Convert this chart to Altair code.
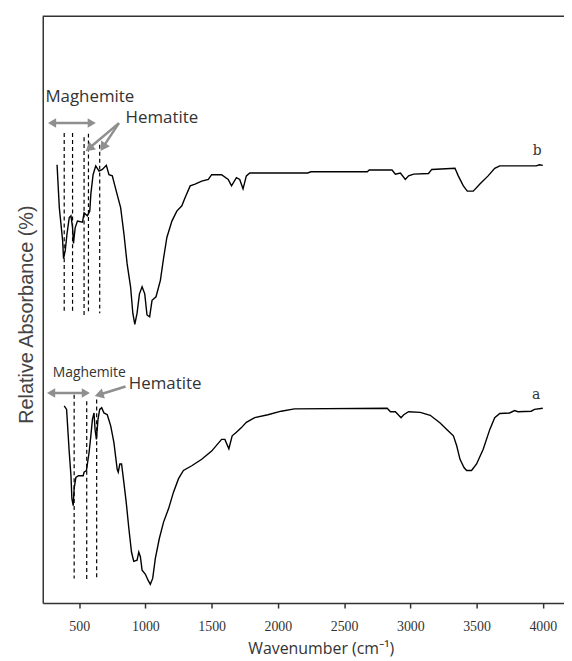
import altair as alt
import pandas as pd

# ---- spectrum b (upper curve) ----
b_wn = [333, 350, 375, 382, 395, 408, 425, 438, 450, 457,
        470, 487, 525, 537, 562, 580, 588, 605, 625, 650,
        675, 705, 725, 750, 780, 813, 838, 862, 888, 905,
        920, 937, 955, 975, 995, 1012, 1032, 1050, 1080, 1113,
        1138, 1162, 1200, 1237, 1275, 1300, 1338, 1375, 1425, 1475,
        1500, 1575, 1625, 1650, 1687, 1712, 1737, 1762, 1788, 2225,
        2250, 2675, 2690, 2862, 2887, 2925, 2962, 2987, 3025, 3137,
        3162, 3337, 3362, 3400, 3430, 3475, 3525, 3587, 3637, 3675,
        3950, 3975, 4000]
b_abs = [74.7, 67.4, 61.8, 58.7, 60.1, 62.9, 65.7, 66.0, 64.0, 61.3,
         64.0, 65.1, 64.9, 66.5, 66.0, 66.8, 69.7, 73.0, 74.5, 73.6,
         73.9, 74.6, 73.0, 72.8, 70.2, 67.4, 62.9, 57.8, 53.9, 49.4,
         47.5, 49.4, 52.7, 53.9, 52.7, 49.1, 48.8, 51.6, 52.2, 55.0,
         58.9, 62.3, 65.1, 66.8, 67.7, 69.1, 71.1, 71.4, 71.9, 72.2,
         73.0, 73.0, 72.2, 71.1, 72.5, 72.2, 70.6, 72.8, 73.3, 73.3,
         73.5, 73.5, 73.8, 73.8, 73.1, 73.3, 72.2, 72.8, 73.1, 73.2,
         73.9, 74.1, 72.8, 71.1, 70.2, 70.2, 71.4, 72.8, 74.1, 74.5,
         74.5, 74.7, 74.6]

# ---- spectrum a (lower curve) ----
a_wn = [387, 405, 425, 438, 445, 455, 462, 475, 495, 530,
        537, 555, 562, 575, 588, 600, 612, 620, 630, 642,
        655, 670, 687, 712, 738, 762, 787, 795, 807, 820,
        837, 855, 875, 895, 912, 937, 950, 962, 975, 1000,
        1020, 1037, 1055, 1075, 1105, 1137, 1175, 1212, 1250, 1287,
        1350, 1425, 1500, 1575, 1600, 1630, 1655, 1687, 1725, 1762,
        1825, 1925, 2025, 2125, 2825, 2850, 2887, 2930, 2950, 2987,
        3075, 3150, 3225, 3275, 3325, 3350, 3375, 3405, 3425, 3462,
        3500, 3550, 3600, 3637, 3675, 3750, 3787, 3812, 3912, 3937,
        4000]
a_abs = [33.6, 33.0, 25.7, 21.7, 17.8, 16.6, 19.5, 21.4, 21.7, 21.7,
         22.3, 22.6, 23.7, 25.7, 28.5, 31.3, 32.4, 29.6, 27.9, 31.3,
         33.0, 33.3, 32.4, 32.1, 30.2, 27.4, 22.8, 22.3, 23.7, 23.7,
         20.6, 17.2, 12.7, 8.7, 7.1, 7.3, 8.7, 7.9, 5.6, 4.9,
         3.9, 3.2, 4.2, 7.6, 11.0, 13.8, 16.1, 18.9, 21.2, 22.6,
         23.4, 24.5, 25.9, 27.9, 27.9, 26.3, 28.5, 29.1, 29.9, 30.8,
         31.6, 32.1, 32.7, 33.1, 33.2, 32.6, 32.6, 31.6, 32.1, 32.6,
         32.5, 32.0, 30.7, 29.6, 28.5, 26.8, 24.5, 23.1, 22.6, 22.6,
         23.7, 26.2, 29.6, 31.6, 32.3, 32.4, 32.8, 32.6, 32.7, 33.0,
         33.2]

# ---- dashed peak markers ----
b_dash_wn = [387, 450, 537, 570, 655]
b_dash_top = [80.1, 80.1, 79.4, 80.0, 78.1]
b_dash_bot = [49.6, 49.6, 49.1, 49.6, 49.4]
a_dash_wn = [462, 557, 632]
a_dash_top = [35.5, 34.4, 34.7]
a_dash_bot = [4.2, 3.9, 4.2]

# ---- annotation arrows ----
mag_arrow_x1 = [295, 288]
mag_arrow_x2 = [595, 550]
mag_arrow_y = [81.8, 35.8]
hem_tail_x = [800, 800, 850]
hem_tail_y = [81.8, 81.8, 36.9]
hem_head_x = [575, 680, 650]
hem_head_y = [77.5, 77.7, 35.5]
hem_head_angle = [230, 213, 253]

# ---- labels ----
lab_text = ["Maghemite", "Hematite", "Maghemite", "Hematite"]
lab_x = [245, 850, 300, 875]
lab_y = [85.4, 81.8, 38.5, 36.4]
lab_size = [17, 17, 14, 17]
curve_lab = ["b", "a"]
curve_lab_x = [3957, 3950]
curve_lab_y = [77.0, 35.5]

x_ticks = list(range(500, 4001, 250))

assert len(b_wn) == len(b_abs) and len(a_wn) == len(a_abs)

W, H = 525, 591
xs = alt.Scale(domain=[225, 4160], nice=False, zero=False)
ys = alt.Scale(domain=[0, 100], nice=False, zero=False)

spec = pd.concat([
    pd.DataFrame({"wn": b_wn, "abs": b_abs, "s": "b"}),
    pd.DataFrame({"wn": a_wn, "abs": a_abs, "s": "a"}),
])

x_axis = alt.Axis(
    values=x_ticks, format="d",
    labelExpr="datum.value % 500 === 0 ? datum.label : ''",
    tickSize={"condition": {"test": "datum.value % 500 !== 0", "value": 2}, "value": 5},
    grid=False, domainColor="#333", domainWidth=1.5, tickColor="#333", tickWidth=1.5,
    labelFont="Liberation Sans Narrow", labelFontSize=14, labelColor="#333", labelPadding=12,
    title="Wavenumber (cm⁻¹)", titleFont="Open Sans", titleFontSize=16, titleFontWeight="normal",
    titleColor="#333", titleX=280, titleY=51, titleBaseline="alphabetic", titleAlign="center",
)
y_axis = alt.Axis(
    labels=False, ticks=False, grid=False, domainColor="#333", domainWidth=1.5,
    title="Relative Absorbance (%)", titleFont="Liberation Sans", titleFontSize=20,
    titleFontWeight="normal", titleColor="#444", titleX=-10, titleY=300,
    titleBaseline="alphabetic", titleAngle=270, titleAlign="center",
)

lines = alt.Chart(spec).mark_line(color="black", strokeWidth=1.4, interpolate="linear").encode(
    x=alt.X("wn:Q", scale=xs, axis=x_axis),
    y=alt.Y("abs:Q", scale=ys, axis=y_axis),
    detail="s:N",
)

dash_df = pd.concat([
    pd.DataFrame({"wn": b_dash_wn, "top": b_dash_top, "bot": b_dash_bot}),
    pd.DataFrame({"wn": a_dash_wn, "top": a_dash_top, "bot": a_dash_bot}),
])
dashes = alt.Chart(dash_df).mark_rule(color="black", strokeWidth=1.2, strokeDash=[4, 3]).encode(
    x=alt.X("wn:Q", scale=xs), y=alt.Y("top:Q", scale=ys), y2="bot:Q"
)

mag_df = pd.DataFrame({"x1": mag_arrow_x1, "x2": mag_arrow_x2, "y": mag_arrow_y})
arrow_col = "#8f8f8f"
mag_shaft = alt.Chart(mag_df).mark_rule(color=arrow_col, strokeWidth=2.5).encode(
    x=alt.X("x1:Q", scale=xs), x2="x2:Q", y=alt.Y("y:Q", scale=ys)
)
mag_left = alt.Chart(mag_df).mark_point(shape="triangle-left", filled=True, color=arrow_col,
                                        opacity=1, size=90).encode(
    x=alt.X("x1:Q", scale=xs), y=alt.Y("y:Q", scale=ys)
)
mag_right = alt.Chart(mag_df).mark_point(shape="triangle-right", filled=True, color=arrow_col,
                                         opacity=1, size=90).encode(
    x=alt.X("x2:Q", scale=xs), y=alt.Y("y:Q", scale=ys)
)

hem_df = pd.DataFrame({"tx": hem_tail_x, "ty": hem_tail_y, "hx": hem_head_x,
                       "hy": hem_head_y, "ang": hem_head_angle})
hem_shaft = alt.Chart(hem_df).mark_rule(color=arrow_col, strokeWidth=2.5).encode(
    x=alt.X("tx:Q", scale=xs), x2="hx:Q", y=alt.Y("ty:Q", scale=ys), y2="hy:Q"
)
hem_head = alt.Chart(hem_df).mark_point(shape="triangle-up", filled=True, color=arrow_col,
                                        opacity=1, size=110).encode(
    x=alt.X("hx:Q", scale=xs), y=alt.Y("hy:Q", scale=ys),
    angle=alt.Angle("ang:Q", scale=None),
)

lab_df = pd.DataFrame({"t": lab_text, "x": lab_x, "y": lab_y, "sz": lab_size})
labels = alt.Chart(lab_df).mark_text(align="left", baseline="alphabetic", font="Open Sans",
                                     color="#333").encode(
    x=alt.X("x:Q", scale=xs), y=alt.Y("y:Q", scale=ys), text="t:N",
    size=alt.Size("sz:Q", scale=None, legend=None),
)

cl_df = pd.DataFrame({"t": curve_lab, "x": curve_lab_x, "y": curve_lab_y})
curve_labels = alt.Chart(cl_df).mark_text(align="center", baseline="middle", font="DejaVu Serif",
                                          fontSize=14, color="#333").encode(
    x=alt.X("x:Q", scale=xs), y=alt.Y("y:Q", scale=ys), text="t:N"
)

top_line = alt.Chart(pd.DataFrame({"k": [0]})).mark_rule(color="#333", strokeWidth=1.5).encode(
    x=alt.value(0), x2=alt.value(W + 4), y=alt.value(0)
)

chart = alt.layer(
    lines, dashes, mag_shaft, mag_left, mag_right, hem_shaft, hem_head,
    labels, curve_labels, top_line
).properties(
    width=W, height=H,
    autosize=alt.AutoSizeParams(type="none"),
    padding={"left": 35, "top": 6, "right": 0, "bottom": 56},
    background="white",
).configure_view(stroke=None)

chart.save("out.html", embed_options={"renderer": "svg", "actions": False})
